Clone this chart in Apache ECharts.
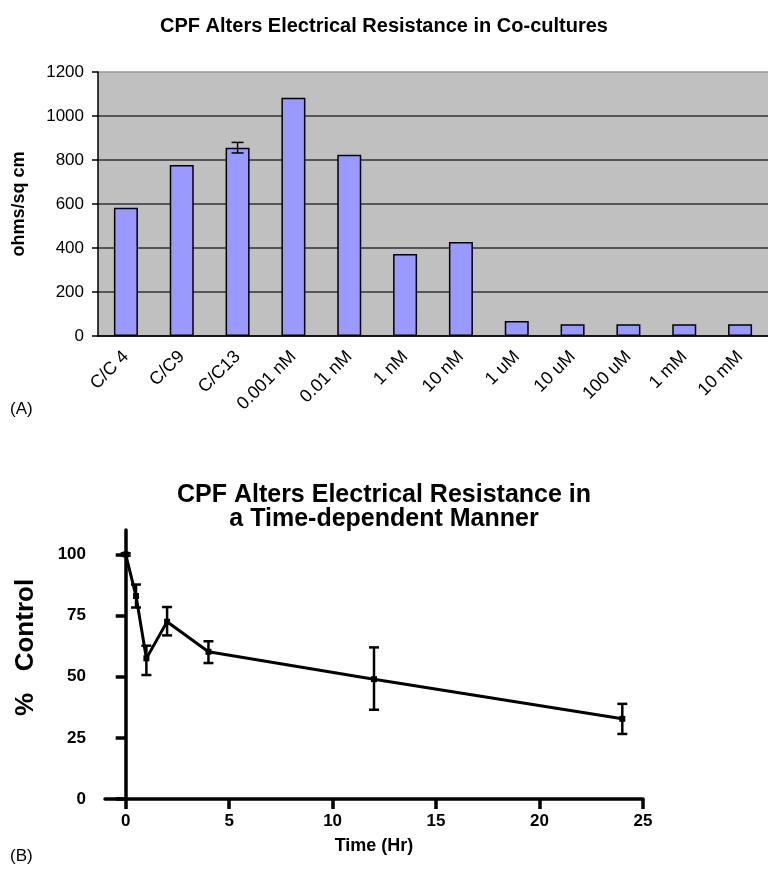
<!DOCTYPE html>
<html>
<head>
<meta charset="utf-8">
<script src="https://cdn.jsdelivr.net/npm/echarts@6/dist/echarts.min.js"></script>
<style>
  html, body { margin: 0; padding: 0; background: #fff; }
  #chart { width: 768px; height: 871px; }
</style>
</head>
<body>
<div id="chart"></div>
<script>
// panel A: resistance per condition
const barCats = ['C/C 4', 'C/C9', 'C/C13', '0.001 nM', '0.01 nM', '1 nM', '10 nM', '1 uM', '10 uM', '100 uM', '1 mM', '10 mM']
const barVals = [583, 777, 856, 1083, 824, 373, 427, 68, 53, 53, 53, 53]
const barErrCat = ['C/C13']
const barErrLow = [832]
const barErrHigh = [880]

// panel B: % control over time
const timeHr = [0, 0.5, 1, 2, 4, 12, 24]
const pctControl = [100, 83, 57.5, 72.5, 60.2, 49, 32.8]
const pctLow = [99.5, 78.3, 50.7, 66.9, 55.6, 36.5, 26.6]
const pctHigh = [100.5, 87.7, 62.7, 78.5, 64.5, 62, 38.9]
const timeTicks = [0, 5, 10, 15, 20, 25]
const pctTicks = [0, 25, 50, 75, 100]

const sans = '"Liberation Sans", Arial, sans-serif'

function errorBars(capHalf, width) {
  return function(params, api) {
    const x = api.value(0)
    const top = api.coord([x, api.value(2)])
    const bot = api.coord([x, api.value(1)])
    const style = { stroke: '#000', lineWidth: width }
    return {
      type: 'group',
      children: [
        { type: 'line', shape: { x1: top[0], y1: top[1], x2: bot[0], y2: bot[1] }, style },
        { type: 'line', shape: { x1: top[0] - capHalf, y1: top[1], x2: top[0] + capHalf, y2: top[1] }, style },
        { type: 'line', shape: { x1: bot[0] - capHalf, y1: bot[1], x2: bot[0] + capHalf, y2: bot[1] }, style }
      ]
    }
  }
}

const chart = echarts.init(document.getElementById('chart'), null, { renderer: 'canvas' })

chart.setOption({
  animation: false,
  backgroundColor: '#fff',
  title: [{
    text: 'CPF Alters Electrical Resistance in Co-cultures',
    left: 'center',
    top: 11,
    textStyle: { fontFamily: sans, fontSize: 20, fontWeight: 'bold', color: '#000' }
  }, {
    text: 'CPF Alters Electrical Resistance in\na Time-dependent Manner',
    left: 'center',
    top: 478,
    textStyle: { fontFamily: sans, fontSize: 25, fontWeight: 'bold', color: '#000', lineHeight: 24 }
  }],
  graphic: [
    { type: 'text', left: 10, top: 401, style: { text: '(A)', fontFamily: sans, fontSize: 17, fill: '#000' } },
    { type: 'text', left: 10, top: 848, style: { text: '(B)', fontFamily: sans, fontSize: 17, fill: '#000' } }
  ],
  grid: [{
    left: 98, top: 72, width: 670, height: 264,
    show: true, backgroundColor: '#c0c0c0', borderWidth: 0
  }, {
    left: 105, top: 530, width: 538, height: 269
  }],
  xAxis: [{
    gridIndex: 0,
    type: 'category',
    data: barCats,
    axisLine: { lineStyle: { color: '#000', width: 1.5 } },
    axisTick: { length: 6, lineStyle: { color: '#000', width: 1.5 } },
    axisLabel: { rotate: 45, interval: 0, margin: 18, fontFamily: sans, fontSize: 18, color: '#000' }
  }, {
    gridIndex: 1,
    type: 'value',
    min: -1,
    max: 25,
    name: 'Time (Hr)',
    nameLocation: 'middle',
    nameGap: 38,
    nameTextStyle: { fontFamily: sans, fontSize: 18, fontWeight: 'bold', color: '#000' },
    axisLine: { onZero: false, lineStyle: { color: '#000', width: 3.5 } },
    axisTick: { length: 10, customValues: timeTicks, lineStyle: { color: '#000', width: 3.5 } },
    axisLabel: { customValues: timeTicks, margin: 14, fontFamily: sans, fontSize: 17, fontWeight: 'bold', color: '#000' },
    splitLine: { show: false }
  }],
  yAxis: [{
    gridIndex: 0,
    type: 'value',
    min: 0,
    max: 1200,
    interval: 200,
    name: 'ohms/sq cm',
    nameLocation: 'middle',
    nameGap: 70,
    nameTextStyle: { fontFamily: sans, fontSize: 18, fontWeight: 'bold', color: '#000' },
    axisLine: { show: true, lineStyle: { color: '#000', width: 1.5 } },
    axisTick: { show: true, length: 6, lineStyle: { color: '#000', width: 1.5 } },
    axisLabel: { margin: 14, fontFamily: sans, fontSize: 17, color: '#000', formatter: v => String(v) },
    splitLine: { show: true, lineStyle: { color: ['#333', '#333', '#333', '#333', '#333', '#333', '#999'], width: 1.5 } }
  }, {
    gridIndex: 1,
    type: 'value',
    min: 0,
    max: 110,
    name: '%   Control',
    nameLocation: 'middle',
    nameGap: 66,
    nameTextStyle: { fontFamily: sans, fontSize: 26, fontWeight: 'bold', color: '#000', padding: [0, 0, 0, 34] },
    axisLine: { show: true, lineStyle: { color: '#000', width: 3.5 } },
    axisTick: { show: true, length: 10, customValues: pctTicks, lineStyle: { color: '#000', width: 3.5 } },
    axisLabel: { customValues: pctTicks, margin: 19, fontFamily: sans, fontSize: 17, fontWeight: 'bold', color: '#000' },
    splitLine: { show: false }
  }],
  series: [{
    type: 'bar',
    xAxisIndex: 0,
    yAxisIndex: 0,
    data: barVals,
    barWidth: 24,
    itemStyle: { color: '#9999ff', borderColor: '#000', borderWidth: 1.5 }
  }, {
    type: 'custom',
    xAxisIndex: 0,
    yAxisIndex: 0,
    renderItem: errorBars(6, 1.5),
    data: barErrCat.map((c, i) => [c, barErrLow[i], barErrHigh[i]]),
    z: 5
  }, {
    type: 'line',
    xAxisIndex: 1,
    yAxisIndex: 1,
    data: timeHr.map((t, i) => [t, pctControl[i]]),
    symbol: 'rect',
    symbolSize: 6,
    itemStyle: { color: '#000' },
    lineStyle: { color: '#000', width: 3 },
    z: 4
  }, {
    type: 'custom',
    xAxisIndex: 1,
    yAxisIndex: 1,
    renderItem: errorBars(5, 2.5),
    data: timeHr.map((t, i) => [t, pctLow[i], pctHigh[i]]),
    z: 5
  }]
})
</script>
</body>
</html>
